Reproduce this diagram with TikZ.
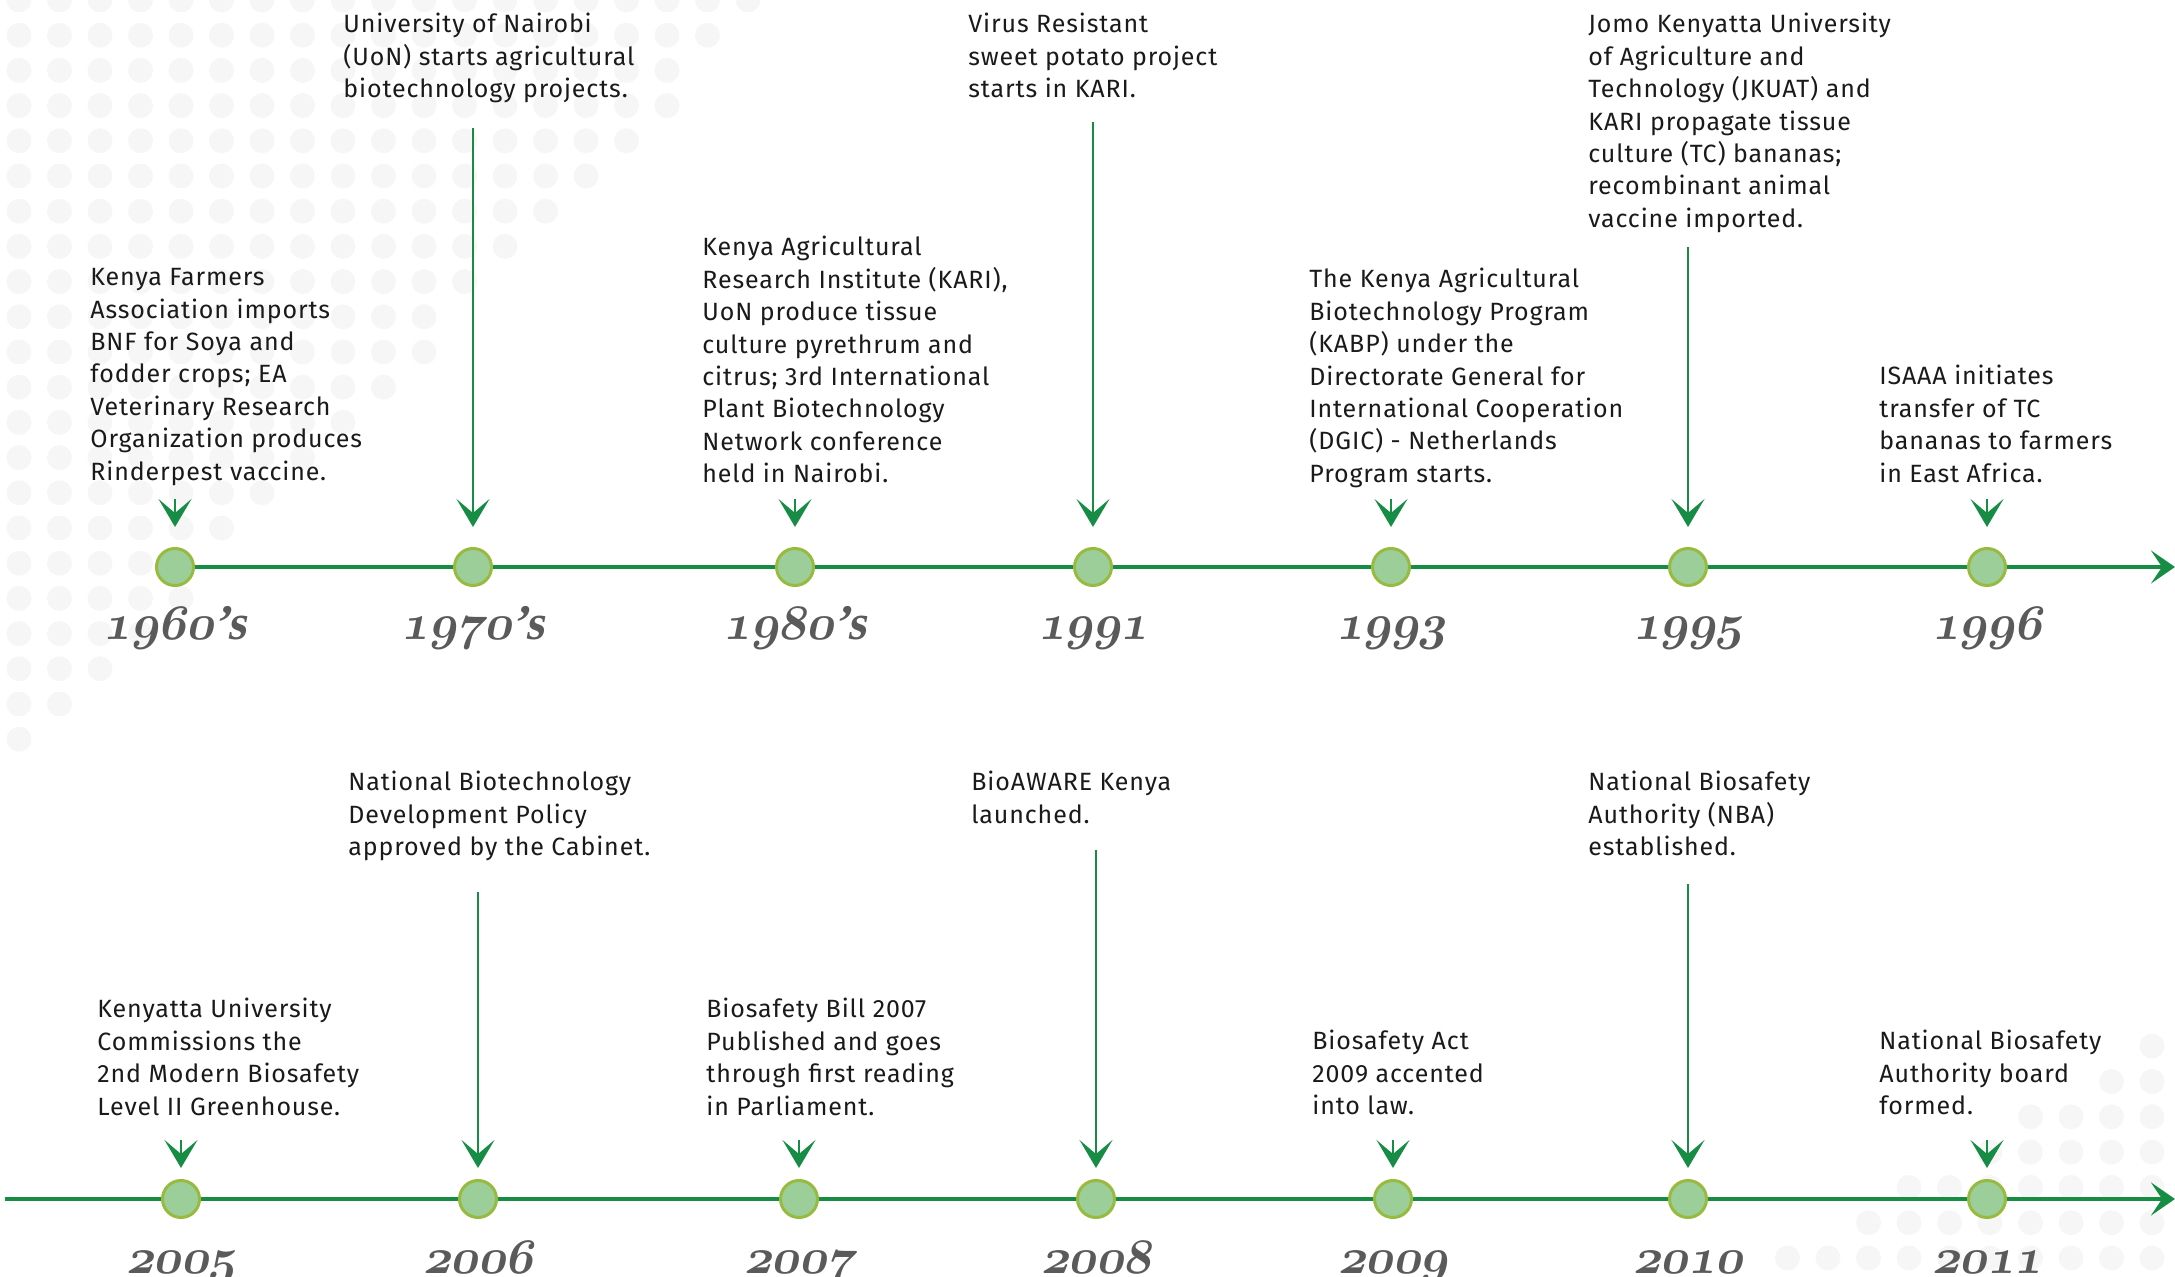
\documentclass[tikz,border=0pt]{standalone}
\usepackage{fontspec}
\setmainfont{Fira Sans}
\newfontfamily\notefont{Fira Sans}[LetterSpace=3.5]
\newfontfamily\yearserif{Liberation Serif}
\usetikzlibrary{arrows.meta}

\definecolor{lineGreen}{HTML}{168C45}
\definecolor{dotFill}{HTML}{9CCE9A}
\definecolor{dotRim}{HTML}{98BA3E}
\definecolor{yearGrey}{HTML}{5A5A5A}
\definecolor{noteInk}{HTML}{1A1A1A}
\definecolor{bgDot}{HTML}{F6F6F6}

\newcommand{\olddigits}[1]{{\usefont{OML}{cmm}{b}{it}#1}}
\newcommand{\decade}{{\yearserif\bfseries ’s}}

\begin{document}
\begin{tikzpicture}[
        x=0.5pt, y=-0.5pt,
        event/.style={anchor=north west, inner sep=0pt, align=left, text=noteInk,
            font=\notefont\fontsize{12.5pt}{16.2pt}\selectfont},
        dot/.style={circle, draw=dotRim, fill=dotFill, line width=1.5pt, minimum size=18.5pt, inner sep=0pt},
        year/.style={anchor=base, inner sep=0pt, text=yearGrey, xslant=0.2, xscale=0.96,
            font=\fontsize{24.88pt}{30pt}\selectfont},
        axis/.style={draw=lineGreen, line width=1.65pt, -{Stealth[length=12pt, width=16.5pt, inset=5.5pt]}},
        pointer/.style={draw=lineGreen, line width=1.35pt, -{Stealth[length=14pt, width=16.5pt, inset=7pt]}},
        bgdot/.style={fill=bgDot}
    ]
        \useasboundingbox (0,0) rectangle (2175,1277);

        % faint dot screens, top left and bottom right
        \foreach \i in {0,...,18}{
            \foreach \j in {0,...,22}{
                \pgfmathsetmacro{\dx}{19+40.5*\i}
                \pgfmathsetmacro{\dy}{35.2*\j}
                \pgfmathparse{\dx/770+\dy/790<1 ? 1 : 0}
                \ifdim\pgfmathresult pt>0.5pt \fill[bgdot] (\dx,\dy) circle[radius=12.5]; \fi
            }
        }
        \foreach \i in {0,...,10}{
            \foreach \j in {0,...,7}{
                \pgfmathsetmacro{\dx}{2152-40.5*\i}
                \pgfmathsetmacro{\dy}{1258-35.3*\j}
                \pgfmathparse{(2175-\dx)/420+(1277-\dy)/250<1 ? 1 : 0}
                \ifdim\pgfmathresult pt>0.5pt \fill[bgdot] (\dx,\dy) circle[radius=12.5]; \fi
            }
        }

        % upper timeline
        \node[dot] (Dot1960) at (175,567) {};
        \node[dot] (Dot1970) at (473,567) {};
        \node[dot] (Dot1980) at (795,567) {};
        \node[dot] (Dot1991) at (1093,567) {};
        \node[dot] (Dot1993) at (1391,567) {};
        \node[dot] (Dot1995) at (1688,567) {};
        \node[dot] (Dot1996) at (1987,567) {};
        \coordinate (EndTop) at (2175,567);
        \draw[axis] (Dot1960) -- (Dot1970) -- (Dot1980) -- (Dot1991) -- (Dot1993) -- (Dot1995) -- (Dot1996) -- (EndTop);

        \node[year] (Yr1960) at (175,640) {\olddigits{1960}\decade};
        \node[year] (Yr1970) at (473,640) {\olddigits{1970}\decade};
        \node[year] (Yr1980) at (795,640) {\olddigits{1980}\decade};
        \node[year] (Yr1991) at (1093,640) {\olddigits{1991}};
        \node[year] (Yr1993) at (1391,640) {\olddigits{1993}};
        \node[year] (Yr1995) at (1688,640) {\olddigits{1995}};
        \node[year] (Yr1996) at (1987,640) {\olddigits{1996}};

        \node[event] (Ev1960) at (90,268) {Kenya Farmers\\Association imports\\BNF for Soya and\\fodder crops; EA\\Veterinary Research\\Organization produces\\Rinderpest vaccine.};
        \node[event] (Ev1970) at (343,13) {University of Nairobi\\(UoN) starts agricultural\\biotechnology projects.};
        \node[event] (Ev1980) at (702,236) {Kenya Agricultural\\Research Institute (KARI),\\UoN produce tissue\\culture pyrethrum and\\citrus; 3rd International\\Plant Biotechnology\\Network conference\\held in Nairobi.};
        \node[event] (Ev1991) at (968,13) {Virus Resistant\\sweet potato project\\starts in KARI.};
        \node[event] (Ev1993) at (1309,268) {The Kenya Agricultural\\Biotechnology Program\\(KABP) under the\\Directorate General for\\International Cooperation\\(DGIC) - Netherlands\\Program starts.};
        \node[event] (Ev1995) at (1588,13) {Jomo Kenyatta University\\of Agriculture and\\Technology (JKUAT) and\\KARI propagate tissue\\culture (TC) bananas;\\recombinant animal\\vaccine imported.};
        \node[event] (Ev1996) at (1879,365) {ISAAA initiates\\transfer of TC\\bananas to farmers\\in East Africa.};

        \coordinate (Tail1960) at (175,499);
        \coordinate (Tail1970) at (473,128);
        \coordinate (Tail1980) at (795,499);
        \coordinate (Tail1991) at (1093,122);
        \coordinate (Tail1993) at (1391,499);
        \coordinate (Tail1995) at (1688,247);
        \coordinate (Tail1996) at (1987,499);
        \draw[pointer, shorten >=10pt] (Tail1960) -- (Dot1960);
        \draw[pointer, shorten >=10pt] (Tail1970) -- (Dot1970);
        \draw[pointer, shorten >=10pt] (Tail1980) -- (Dot1980);
        \draw[pointer, shorten >=10pt] (Tail1991) -- (Dot1991);
        \draw[pointer, shorten >=10pt] (Tail1993) -- (Dot1993);
        \draw[pointer, shorten >=10pt] (Tail1995) -- (Dot1995);
        \draw[pointer, shorten >=10pt] (Tail1996) -- (Dot1996);

        % lower timeline
        \node[dot] (Dot2005) at (181,1199) {};
        \node[dot] (Dot2006) at (478,1199) {};
        \node[dot] (Dot2007) at (799,1199) {};
        \node[dot] (Dot2008) at (1096,1199) {};
        \node[dot] (Dot2009) at (1393,1199) {};
        \node[dot] (Dot2010) at (1688,1199) {};
        \node[dot] (Dot2011) at (1987,1199) {};
        \coordinate (StartLow) at (5,1199);
        \coordinate (EndLow) at (2175,1199);
        \draw[axis] (StartLow) -- (Dot2005) -- (Dot2006) -- (Dot2007) -- (Dot2008) -- (Dot2009) -- (Dot2010) -- (Dot2011) -- (EndLow);

        \node[year] (Yr2005) at (181,1273) {\olddigits{2005}};
        \node[year] (Yr2006) at (478,1273) {\olddigits{2006}};
        \node[year] (Yr2007) at (799,1273) {\olddigits{2007}};
        \node[year] (Yr2008) at (1096,1273) {\olddigits{2008}};
        \node[year] (Yr2009) at (1393,1273) {\olddigits{2009}};
        \node[year] (Yr2010) at (1688,1273) {\olddigits{2010}};
        \node[year] (Yr2011) at (1987,1273) {\olddigits{2011}};

        \node[event] (Ev2005) at (97,998) {Kenyatta University\\Commissions the\\2nd Modern Biosafety\\Level II Greenhouse.};
        \node[event] (Ev2006) at (348,771) {National Biotechnology\\Development Policy\\approved by the Cabinet.};
        \node[event] (Ev2007) at (706,998) {Biosafety Bill 2007\\Published and goes\\through first reading\\in Parliament.};
        \node[event] (Ev2008) at (971,771) {BioAWARE Kenya\\launched.};
        \node[event] (Ev2009) at (1312,1030) {Biosafety Act\\2009 accented\\into law.};
        \node[event] (Ev2010) at (1588,771) {National Biosafety\\Authority (NBA)\\established.};
        \node[event] (Ev2011) at (1879,1030) {National Biosafety\\Authority board\\formed.};

        \coordinate (Tail2005) at (181,1140);
        \coordinate (Tail2006) at (478,892);
        \coordinate (Tail2007) at (799,1140);
        \coordinate (Tail2008) at (1096,850);
        \coordinate (Tail2009) at (1393,1140);
        \coordinate (Tail2010) at (1688,884);
        \coordinate (Tail2011) at (1987,1140);
        \draw[pointer, shorten >=5.5pt] (Tail2005) -- (Dot2005);
        \draw[pointer, shorten >=5.5pt] (Tail2006) -- (Dot2006);
        \draw[pointer, shorten >=5.5pt] (Tail2007) -- (Dot2007);
        \draw[pointer, shorten >=5.5pt] (Tail2008) -- (Dot2008);
        \draw[pointer, shorten >=5.5pt] (Tail2009) -- (Dot2009);
        \draw[pointer, shorten >=5.5pt] (Tail2010) -- (Dot2010);
        \draw[pointer, shorten >=5.5pt] (Tail2011) -- (Dot2011);
    \end{tikzpicture}
\end{document}
